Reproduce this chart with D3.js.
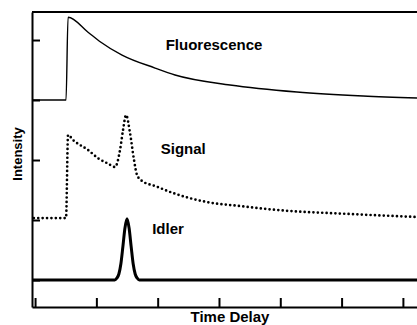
<!DOCTYPE html>
<html>
<head>
<meta charset="utf-8">
<script src="https://cdn.jsdelivr.net/npm/d3@7"></script>
<style>
  body { margin: 0; background: #fff; }
  svg { display: block; }
  .lbl { font-family: "Liberation Sans", Arial, sans-serif; font-weight: bold; fill: #000; }
</style>
</head>
<body>
<div id="chart"></div>
<script>
// time delay (arb. units) and intensity values
const fluorX = [-0.05, 0.505, 0.538, 0.864, 1.05, 1.419, 1.957, 2.283, 3.18, 4.27, 5.35, 6.23];
const fluorY = [3.0, 3.0, 4.38, 4.13, 3.98, 3.75, 3.533, 3.417, 3.25, 3.133, 3.067, 3.033];

const signalX = [-0.02, 0.505, 0.538, 0.62, 0.864, 1.027, 1.19, 1.304, 1.386, 1.435, 1.484, 1.549, 1.614, 1.663, 1.745, 1.957, 2.25, 2.8, 3.34, 3.946, 5.136, 6.23];
const signalY = [1.033, 1.033, 2.417, 2.333, 2.167, 2.03, 1.94, 1.883, 2.167, 2.5, 2.75, 2.45, 2.0, 1.75, 1.65, 1.567, 1.45, 1.3, 1.233, 1.167, 1.1, 1.05];

const idlerX = [-0.05, 1.3, 1.333, 1.367, 1.4, 1.433, 1.467, 1.5, 1.533, 1.567, 1.6, 1.633, 1.667, 1.7, 6.23];
const idlerY = [0.0, 0.0, 0.03, 0.1, 0.27, 0.56, 0.87, 1.02, 0.87, 0.56, 0.27, 0.1, 0.03, 0.0, 0.0];

const xTicks = [0, 1, 2, 3, 4, 5, 6];
const yTicks = [0, 1, 2, 3, 4];

const labels = [
  { text: "Fluorescence", x: 2.13, y: 3.83 },
  { text: "Signal", x: 2.05, y: 2.1 },
  { text: "Idler", x: 1.91, y: 0.77 }
];

const W = 417, H = 325;
const svg = d3.select("#chart").append("svg").attr("width", W).attr("height", H);

const x = d3.scaleLinear().domain([-0.05, 6.23]).range([32, 417]);
const y = d3.scaleLinear().domain([-0.45, 4.467]).range([307, 12]);

const zip = (xs, ys) => xs.map((v, i) => ({ x: v, y: ys[i] }));

const line = d3.line()
  .curve(d3.curveMonotoneX)
  .x(d => x(d.x))
  .y(d => y(d.y));

// axes, ticks pointing inward
svg.append("g")
  .attr("transform", "translate(0," + y(-0.45) + ")")
  .call(d3.axisBottom(x).tickValues(xTicks).tickSize(-9).tickSizeOuter(0).tickFormat(""))
  .call(g => g.selectAll("line,path").attr("stroke", "#000").attr("stroke-width", 2));

svg.append("g")
  .attr("transform", "translate(" + x(-0.05) + ",0)")
  .call(d3.axisLeft(y).tickValues(yTicks).tickSize(-8).tickSizeOuter(0).tickFormat(""))
  .call(g => g.selectAll("line,path").attr("stroke", "#000").attr("stroke-width", 2));

// top frame line
svg.append("line")
  .attr("x1", x(-0.05)).attr("x2", W)
  .attr("y1", y(4.467)).attr("y2", y(4.467))
  .attr("stroke", "#000").attr("stroke-width", 2);

svg.append("path")
  .datum(zip(fluorX, fluorY))
  .attr("d", line)
  .attr("fill", "none")
  .attr("stroke", "#000")
  .attr("stroke-width", 1.4);

svg.append("path")
  .datum(zip(signalX, signalY))
  .attr("d", line)
  .attr("fill", "none")
  .attr("stroke", "#000")
  .attr("stroke-width", 2.7)
  .attr("stroke-linecap", "round")
  .attr("stroke-dasharray", "0 4.4");

svg.append("path")
  .datum(zip(idlerX, idlerY))
  .attr("d", line)
  .attr("fill", "none")
  .attr("stroke", "#000")
  .attr("stroke-width", 3);

svg.selectAll(".series-label")
  .data(labels)
  .enter()
  .append("text")
  .attr("class", "lbl")
  .attr("x", d => x(d.x))
  .attr("y", d => y(d.y))
  .style("font-size", "15px")
  .text(d => d.text);

svg.append("text")
  .attr("class", "lbl")
  .attr("x", 230)
  .attr("y", 322)
  .attr("text-anchor", "middle")
  .style("font-size", "15px")
  .text("Time Delay");

svg.append("text")
  .attr("class", "lbl")
  .attr("transform", "translate(22,154) rotate(-90)")
  .attr("text-anchor", "middle")
  .style("font-size", "13px")
  .text("Intensity");
</script>
</body>
</html>
